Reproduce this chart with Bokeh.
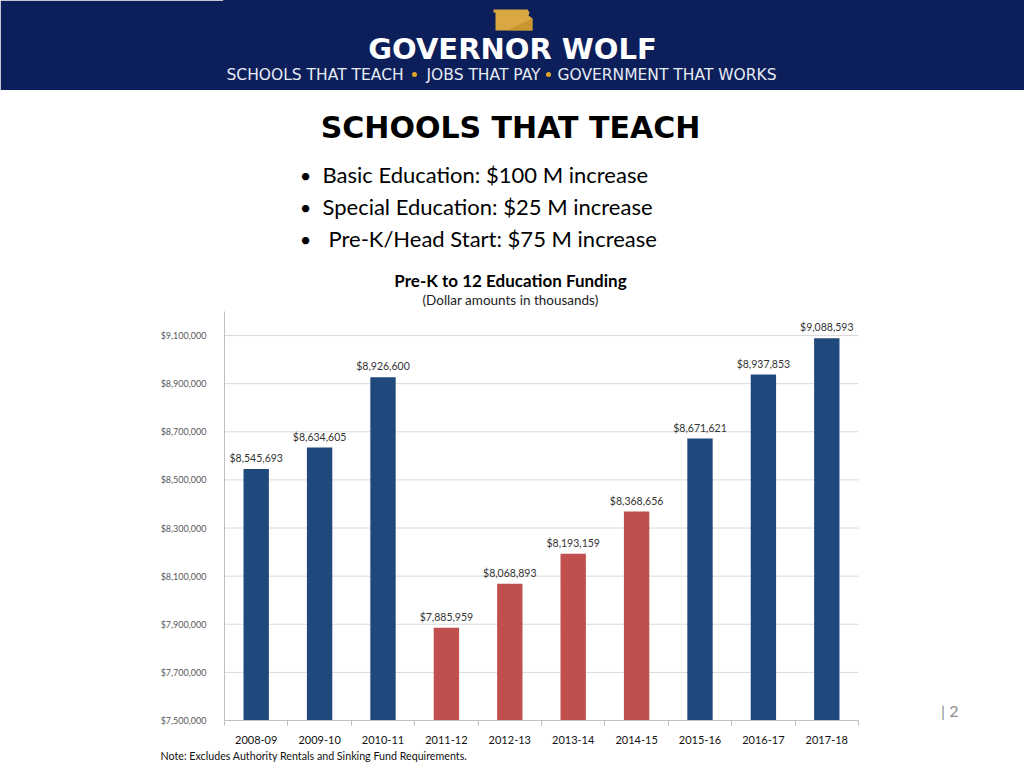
from bokeh.plotting import figure
from bokeh.layouts import column
from bokeh.models import (Range1d, FixedTicker, NumeralTickFormatter,
                          ColumnDataSource, Title)
from bokeh.transform import factor_cmap
from bokeh.core.properties import value
from bokeh.embed import file_html
from bokeh.resources import INLINE

# ---------------- data ----------------
years = ["2008-09", "2009-10", "2010-11", "2011-12", "2012-13",
         "2013-14", "2014-15", "2015-16", "2016-17", "2017-18"]
funding = [8545693, 8634605, 8926600, 7885959, 8068893,
           8193159, 8368656, 8671621, 8937853, 9088593]
period = ["up", "up", "up", "down", "down", "down", "down", "up", "up", "up"]
y_ticks = [7500000, 7700000, 7900000, 8100000, 8300000, 8500000,
           8700000, 8900000, 9100000]
y_min, y_max = 7500000, 9200000
bullets = ["Basic Education: $100 M increase",
           "Special Education: $25 M increase",
           "Pre-K/Head Start: $75 M increase"]
tagline = ["SCHOOLS THAT TEACH", "JOBS THAT PAY", "GOVERNMENT THAT WORKS"]

NAVY = "#0C1F5B"
GOLD = "#E0A526"
BLUE = "#1F497D"
RED = "#C0504D"
FONT = "Lato"

# page layout (pixels)
W, H = 1024, 768
HEADER_H = 90
FRAME_L, PLOT_R = 224, 858        # frame left edge, right end of the category axis
BASE_Y, TOP_Y = 720, 311          # pixel rows of y_min and y_max
BOTTOM_BORDER = H - BASE_Y

# ---------------- header figure ----------------
hdr = figure(width=W, height=HEADER_H, x_range=Range1d(FRAME_L, W), y_range=Range1d(HEADER_H, 0),
             x_axis_type=None, y_axis_type=None, toolbar_location=None, output_backend="svg",
             min_border_left=FRAME_L, min_border_right=0, min_border_top=0, min_border_bottom=0,
             background_fill_color=NAVY, border_fill_color=NAVY,
             outline_line_color=NAVY, outline_line_width=3)
hdr.grid.visible = False
# Pennsylvania icon
hdr.patch(x=[493, 527, 529, 528, 532, 532, 495, 495, 493],
          y=[9, 9, 12, 15, 18, 30, 30, 12, 12], color="#D9A843", line_color=None)
hdr.patch(x=[532, 532, 506], y=[18, 30, 30], color="#C28E25", line_color=None, alpha=0.7)
hdr.text(x=[512], y=[48], text=["GOVERNOR WOLF"], text_align="center", text_baseline="middle",
         text_color="white", text_font=value("DejaVu Sans"), text_font_style="bold",
         text_font_size=value("29px"))
hdr.text(x=[226, 426, 557], y=[74, 74, 74], text=tagline, text_align="left",
         text_baseline="middle", text_color="#E8ECF4", text_font=value("DejaVu Sans"),
         text_font_size=value("15.5px"))
hdr.scatter(x=[414, 548], y=[74, 74], size=5, color=GOLD, marker="circle", line_color=None)

# ---------------- chart figure ----------------
n = len(years)
centers = [i + 0.5 for i in range(n)]
x_end = n * (W - FRAME_L) / (PLOT_R - FRAME_L)
per_px = (y_max - y_min) / (BASE_Y - TOP_Y)
y_top = y_min + (BASE_Y - HEADER_H) * per_px

p = figure(width=W, height=H - HEADER_H, x_range=Range1d(0, x_end),
           y_range=Range1d(y_min, y_top), toolbar_location=None, output_backend="svg",
           min_border_left=FRAME_L, min_border_right=0, min_border_top=0,
           min_border_bottom=BOTTOM_BORDER, outline_line_color=None)
p.extra_x_ranges = {"abs": Range1d(FRAME_L, W)}
p.extra_y_ranges = {"abs": Range1d(BASE_Y, HEADER_H)}
p.grid.visible = False

# gridlines limited to the category area
p.segment(x0=[0] * len(y_ticks), x1=[n] * len(y_ticks), y0=y_ticks, y1=y_ticks,
          line_color="#D9D9D9", line_width=1)

src = ColumnDataSource(dict(x=centers, year=years, val=funding, period=period,
                            label=[f"${v:,.0f}" for v in funding]))
p.vbar(x="x", top="val", bottom=y_min, width=0.4, source=src, line_color=None,
       fill_color=factor_cmap("period", [BLUE, RED], ["up", "down"]))
p.text(x="x", y="val", text="label", source=src, text_align="center",
       text_baseline="bottom", y_offset=-5, text_color="#333333", text_font=value(FONT),
       text_font_size=value("10.5px"))

# slide titles (page pixel coordinates)
kw = dict(x_range_name="abs", y_range_name="abs", text_baseline="middle")
p.text(x=[510], y=[127], text=["SCHOOLS THAT TEACH"], text_align="center",
       text_color="black", text_font=value("DejaVu Sans"), text_font_style="bold",
       text_font_size=value("30px"), **kw)
p.text(x=[305, 305, 305], y=[174, 206, 238], text=["•", "•", "•"], text_align="center",
       text_color="black", text_font=value(FONT), text_font_size=value("20px"), **kw)
p.text(x=[322, 322, 328], y=[174, 206, 238], text=bullets, text_align="left",
       text_color="black", text_font=value(FONT), text_font_size=value("22px"), **kw)
p.text(x=[510], y=[280], text=["Pre-K to 12 Education Funding"], text_align="center",
       text_color="black", text_font=value(FONT), text_font_style="bold",
       text_font_size=value("17px"), **kw)
p.text(x=[510], y=[299], text=["(Dollar amounts in thousands)"], text_align="center",
       text_color="#222222", text_font=value(FONT), text_font_size=value("13.5px"), **kw)
p.text(x=[958], y=[710], text=["| 2"], text_align="right", text_color="#8C8C8C",
       text_font=value(FONT), text_font_size=value("16px"), **kw)

p.yaxis.ticker = FixedTicker(ticks=y_ticks)
p.yaxis.bounds = (y_min, y_max)
p.yaxis.formatter = NumeralTickFormatter(format="$0,0")
p.yaxis.major_label_text_font = FONT
p.yaxis.major_label_text_font_size = "9px"
p.yaxis.major_label_text_color = "#595959"
p.yaxis.axis_line_color = "#BFBFBF"
p.yaxis.major_tick_line_color = None
p.yaxis.minor_tick_line_color = None
p.yaxis.major_label_standoff = 12

p.xaxis.ticker = FixedTicker(ticks=centers, minor_ticks=list(range(n + 1)))
p.xaxis.bounds = (0, n)
p.xaxis.major_label_overrides = {c: y for c, y in zip(centers, years)}
p.xaxis.major_label_text_font = FONT
p.xaxis.major_label_text_font_size = "11px"
p.xaxis.major_label_text_color = "#111111"
p.xaxis.axis_line_color = "#BFBFBF"
p.xaxis.major_tick_line_color = None
p.xaxis.minor_tick_line_color = "#BFBFBF"
p.xaxis.minor_tick_in = 0
p.xaxis.minor_tick_out = 5
p.xaxis.major_label_standoff = 9

p.add_layout(Title(text="Note: Excludes Authority Rentals and Sinking Fund Requirements.",
                   align="left", offset=-64, standoff=0, text_font=FONT,
                   text_font_size="10.7px", text_font_style="normal", text_color="#111111"),
             "below")

layout = column(hdr, p, spacing=0)
open("out.html", "w").write(file_html(layout, INLINE))
